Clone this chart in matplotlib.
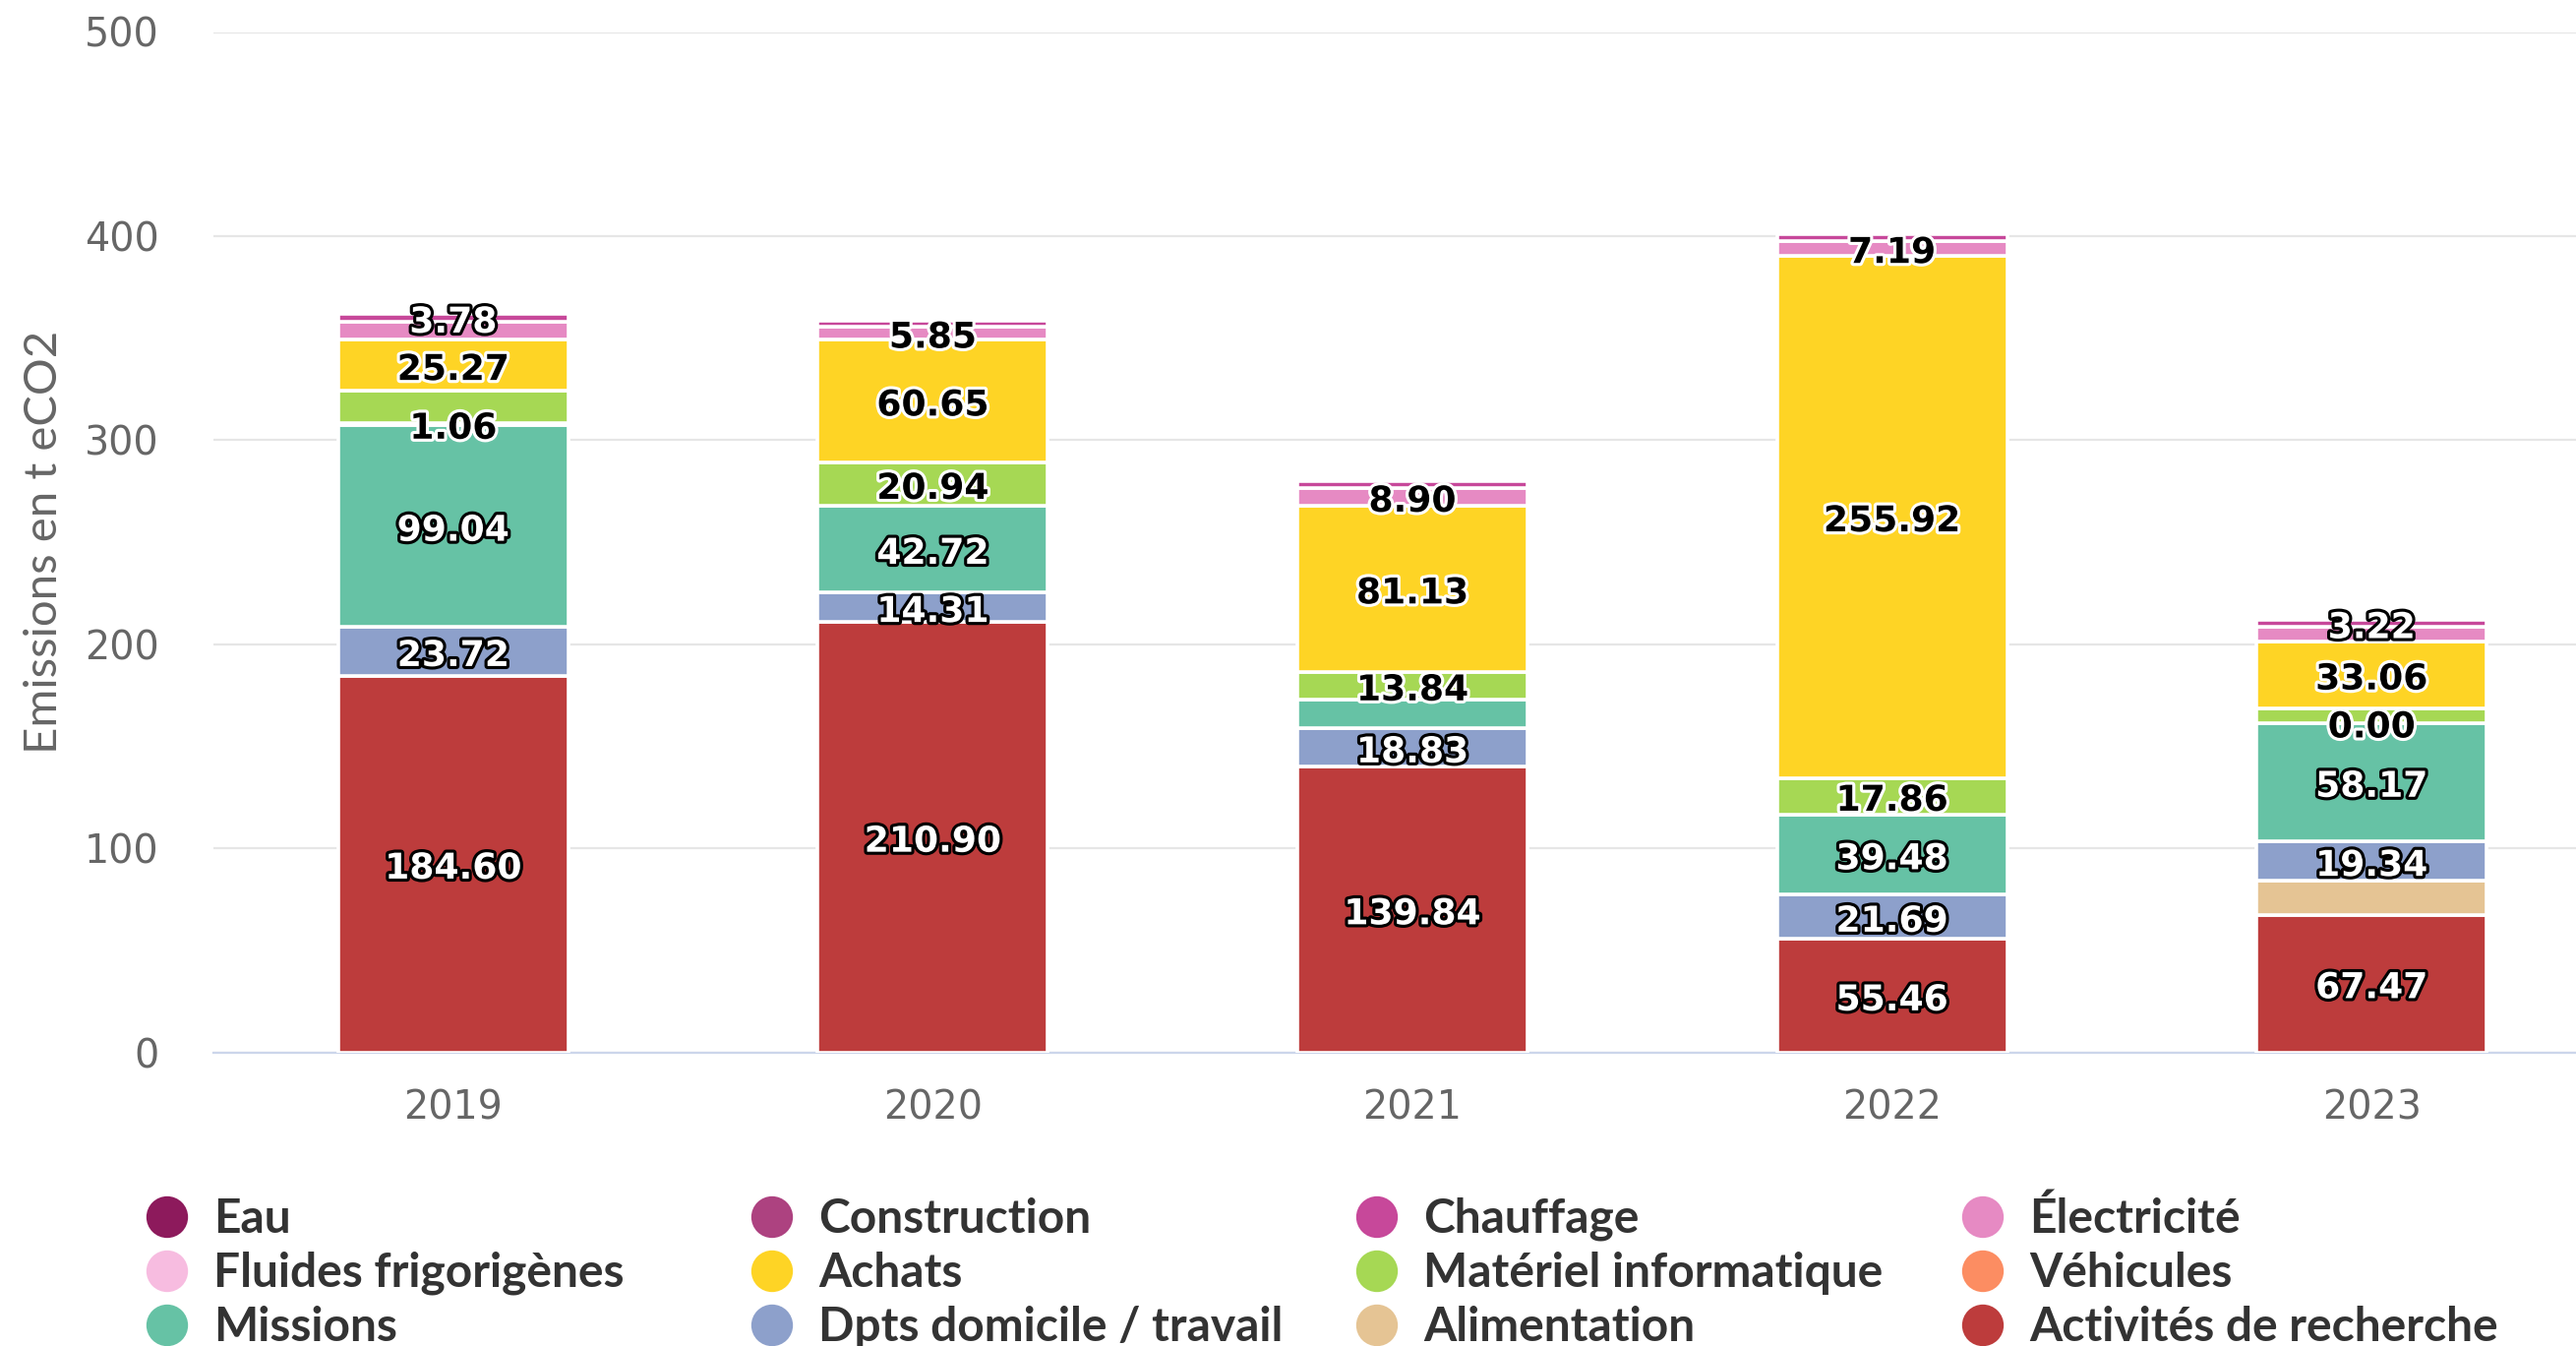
import matplotlib
matplotlib.use('Agg')
import matplotlib.pyplot as plt
import matplotlib.patheffects as pe
import numpy as np


# data (t eCO2)
years = ["2019", "2020", "2021", "2022", "2023"]

series_names = ["Eau", "Construction", "Chauffage", "Électricité",
                "Fluides frigorigènes", "Achats", "Matériel informatique", "Véhicules",
                "Missions", "Dpts domicile / travail", "Alimentation", "Activités de recherche"]

eau = [None, None, None, None, None]
construction = [None, None, None, None, None]
chauffage = [3.78, 3.3, 3.2, 3.1, 3.22]
electricite = [8.7, 5.85, 8.90, 7.19, 7.0]
fluides = [None, None, None, None, None]
achats = [25.27, 60.65, 81.13, 255.92, 33.06]
materiel = [15.6, 20.94, 13.84, 17.86, 7.0]
vehicules = [1.06, None, None, None, 0.00]
missions = [99.04, 42.72, 14.05, 39.48, 58.17]
dpts = [23.72, 14.31, 18.83, 21.69, 19.34]
alimentation = [None, None, None, None, 16.5]
activites = [184.60, 210.90, 139.84, 55.46, 67.47]

colors = ["#8d1a5c", "#ad4280", "#c7489a", "#e68ac3",
          "#f7bce0", "#fed425", "#a6d854", "#fc8d62",
          "#66c2a5", "#8da0cb", "#e5c494", "#bd3c3c"]

# labels that the original chart hides because they overlap
hidden = [("Électricité", 0), ("Matériel informatique", 0),
          ("Chauffage", 1), ("Chauffage", 2), ("Missions", 2),
          ("Chauffage", 3), ("Électricité", 4), ("Matériel informatique", 4),
          ("Alimentation", 4)]

# light fills get dark label text
dark_text = ["Électricité", "Fluides frigorigènes", "Achats", "Matériel informatique", "Véhicules"]

values = [eau, construction, chauffage, electricite, fluides, achats,
          materiel, vehicules, missions, dpts, alimentation, activites]

W, H = 2619, 1368
fig = plt.figure(figsize=(W / 100, H / 100), dpi=100)

left = 217 / W
bottom = (H - 1069.5) / H
height = (1069.5 - 32.5) / H
ax = fig.add_axes([left, bottom, 2438 / W, height])

x = np.arange(len(years))
bar_w = 0.48
base = np.zeros(len(years))

# stack from the bottom: last series first
for name, vals, col in reversed(list(zip(series_names, values, colors))):
    for i, v in enumerate(vals):
        if v is None:
            continue
        ax.bar(x[i], v, bottom=base[i], width=bar_w, color=col,
               edgecolor="white", linewidth=2.6, zorder=3)
        if (name, i) not in hidden:
            if name in dark_text:
                fc, oc = "black", "white"
            else:
                fc, oc = "white", "black"
            ax.annotate(f"{v:.2f}", (x[i], base[i] + v / 2), xytext=(0, -3.5),
                        textcoords="offset points", ha="center", va="center",
                        fontsize=26, fontweight="bold", color=fc, zorder=5,
                        path_effects=[pe.withStroke(linewidth=4.5, foreground=oc)])
        base[i] += v

ax.set_xlim(-0.5, 4.5)
ax.set_ylim(0, 500)
ax.set_yticks([0, 100, 200, 300, 400, 500])
ax.set_xticks(x)
ax.set_xticklabels(years)
ax.tick_params(axis="both", length=0, labelsize=28.5, labelcolor="#666666")
ax.tick_params(axis="x", pad=27)
ax.tick_params(axis="y", pad=40)
ax.grid(axis="y", color="#e6e6e6", linewidth=1.6, zorder=0)
ax.set_axisbelow(True)
for s in ["top", "right", "left"]:
    ax.spines[s].set_visible(False)
ax.spines["bottom"].set_color("#ccd6eb")
ax.spines["bottom"].set_linewidth(1.6)

narrow = ["Lato", "DejaVu Sans"]
fig.text(45 / W, 1 - 551 / H, "Emissions en t eCO2", rotation=90, ha="center", va="center",
         fontsize=34, color="#666666", family=narrow)

# legend drawn by hand, row by row, in pixel coordinates
lax = fig.add_axes([0, 0, 1, 1])
lax.set_xlim(0, W)
lax.set_ylim(H, 0)
lax.axis("off")
col_x = [170, 785, 1400, 2016]
row_y = [1237, 1292, 1347]
for k, (name, col) in enumerate(zip(series_names, colors)):
    r, c = divmod(k, 4)
    lax.scatter(col_x[c], row_y[r], s=930, color=col, edgecolors="none")
    lax.text(col_x[c] + 47, row_y[r] + 2, name, ha="left", va="center",
             fontsize=34.5, fontweight="bold", color="#333333", family=narrow)

fig.savefig("out.png", dpi=100)
